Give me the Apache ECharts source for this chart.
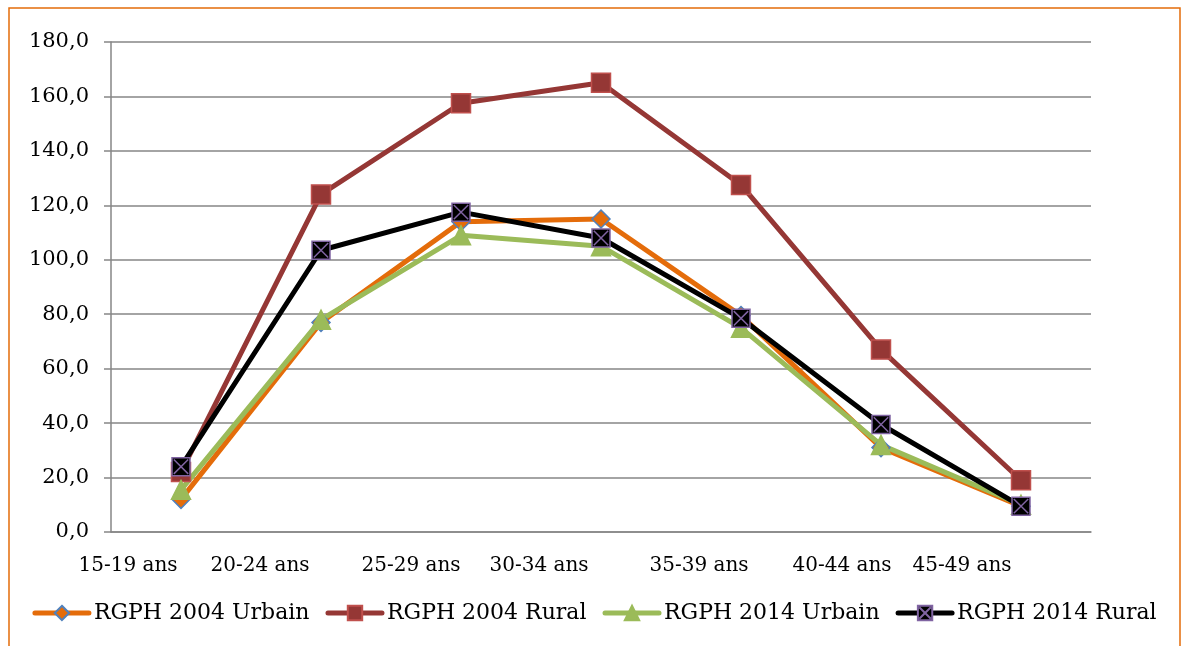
<!DOCTYPE html>
<html>
<head>
<meta charset="utf-8">
<script src="https://cdn.jsdelivr.net/npm/echarts@6/dist/echarts.min.js"></script>
<style>
	html, body { margin: 0; padding: 0; background: #fff; }
	#container { width: 1189px; height: 646px; }
</style>
</head>
<body>
<div id="container"></div>
<script>
// tranches d'age
var categories = ['15-19 ans', '20-24 ans', '25-29 ans', '30-34 ans', '35-39 ans', '40-44 ans', '45-49 ans'];
var urbain2004 = [12.0, 77.0, 114.0, 115.0, 79.5, 31.0, 9.5];
var rural2004 = [22.0, 124.0, 157.5, 165.0, 127.5, 67.0, 19.0];
var urbain2014 = [15.5, 78.0, 109.0, 105.0, 75.0, 32.0, 10.0];
var rural2014 = [24.0, 103.5, 117.5, 108.0, 78.5, 39.5, 9.5];
var yTicks = [0, 20, 40, 60, 80, 100, 120, 140, 160, 180];

// decalage des libelles de l'axe X (comme dans le graphique d'origine)
var labelShift = [53, 61, 50, 62, 42, 39, 59];

(function() {
	var myChart = echarts.init(document.getElementById('container'));
	var font = 'DejaVu Serif';
	var rich = {};
	labelShift.forEach(function(s, i) {
		rich['s' + i] = { fontFamily: font, fontSize: 20, color: '#000', padding: [0, s * 2, 0, 0] };
	});

	function serie(name, data, color, symbol, size, border, width) {
		return {
			name: name,
			type: 'line',
			data: data,
			symbol: symbol,
			symbolSize: size,
			lineStyle: { color: color, width: width },
			itemStyle: { color: color, borderColor: border, borderWidth: 1.5 },
			emphasis: { disabled: true }
		};
	}

	var option = {
		animation: false,
		textStyle: { fontFamily: font },
		graphic: [{
			type: 'rect',
			shape: { x: 9, y: 8, width: 1171, height: 660 },
			style: { fill: 'none', stroke: '#E46C0A', lineWidth: 1.5 },
			silent: true
		}],
		legend: {
			bottom: 17,
			left: 'center',
			itemWidth: 54,
			itemHeight: 18,
			itemGap: 16,
			lineStyle: { width: 5, cap: 'round' },
			textStyle: { fontFamily: font, fontSize: 22, color: '#000' },
			data: ['RGPH 2004 Urbain', 'RGPH 2004 Rural', 'RGPH 2014 Urbain', 'RGPH 2014 Rural']
		},
		grid: { left: 111, right: 98, top: 42, bottom: 114 },
		xAxis: {
			type: 'category',
			data: categories,
			boundaryGap: true,
			axisLine: { lineStyle: { color: '#868686', width: 1.5 } },
			axisTick: { length: 8, lineStyle: { color: '#868686', width: 1.5 } },
			axisLabel: {
				margin: 24,
				interval: 0,
				formatter: function(v, i) { return '{s' + i + '|' + v + '}'; },
				rich: rich
			},
			splitLine: { show: false }
		},
		yAxis: {
			type: 'value',
			min: yTicks[0],
			max: yTicks[yTicks.length - 1],
			interval: yTicks[1] - yTicks[0],
			axisLine: { show: true, lineStyle: { color: '#868686', width: 1.5 } },
			axisTick: { show: true, length: 7, lineStyle: { color: '#868686', width: 1.5 } },
			axisLabel: {
				margin: 22,
				fontFamily: font,
				fontSize: 21,
				color: '#000',
				formatter: function(v) { return v.toFixed(1).replace('.', ','); }
			},
			splitLine: { lineStyle: { color: '#868686', width: 1.5 } }
		},
		series: [
			serie('RGPH 2004 Urbain', urbain2004, '#E46C0A', 'diamond', 18, '#4F81BD', 5),
			serie('RGPH 2004 Rural', rural2004, '#953735', 'rect', 19, '#C0504D', 5),
			serie('RGPH 2014 Urbain', urbain2014, '#9BBB59', 'triangle', 19, '#9BBB59', 5),
			serie('RGPH 2014 Rural', rural2014, '#000000',
				'path://M0,0L20,0L20,20L0,20ZM2,2L18,18M18,2L2,18', 18, '#8064A2', 5)
		]
	};
	myChart.setOption(option);
})();
</script>
</body>
</html>
